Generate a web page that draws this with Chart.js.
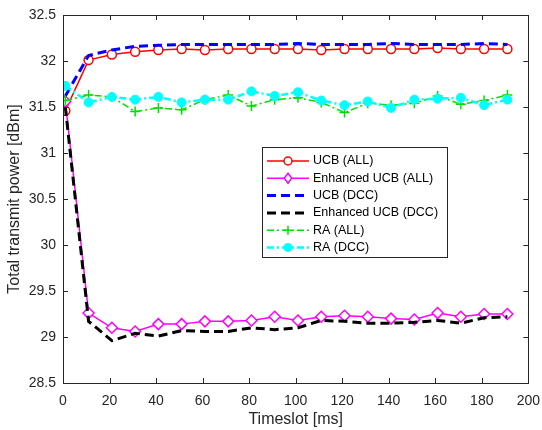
<!DOCTYPE html>
<html>
<head>
<meta charset="utf-8">
<script src="https://cdn.jsdelivr.net/npm/chart.js@4"></script>
<style>
  html, body { margin: 0; padding: 0; background: #fff; }
  #wrap { width: 542px; height: 430px; position: relative; }
</style>
</head>
<body>
<div id="wrap"><canvas id="myChart" width="542" height="430"></canvas></div>
<script>
// timeslots (ms)
var timeslot = [1, 11, 21, 31, 41, 51, 61, 71, 81, 91, 101, 111, 121, 131, 141, 151, 161, 171, 181, 191];

// series values (dBm)
var ucb_all = [31.46, 32.01, 32.07, 32.10, 32.12, 32.13, 32.12, 32.13, 32.13, 32.13, 32.13, 32.12, 32.13, 32.13, 32.13, 32.13, 32.14, 32.13, 32.13, 32.13];
var enh_all = [31.56, 29.26, 29.10, 29.06, 29.14, 29.14, 29.17, 29.17, 29.18, 29.22, 29.18, 29.22, 29.23, 29.22, 29.20, 29.19, 29.26, 29.22, 29.25, 29.25];
var ucb_dcc = [31.62, 32.06, 32.12, 32.16, 32.17, 32.18, 32.18, 32.18, 32.18, 32.18, 32.19, 32.18, 32.18, 32.18, 32.19, 32.18, 32.18, 32.18, 32.19, 32.18];
var enh_dcc = [31.50, 29.17, 28.96, 29.04, 29.01, 29.07, 29.06, 29.06, 29.10, 29.08, 29.10, 29.18, 29.17, 29.15, 29.15, 29.16, 29.18, 29.15, 29.21, 29.22];
var ra_all  = [31.57, 31.63, 31.61, 31.45, 31.49, 31.47, 31.58, 31.63, 31.51, 31.58, 31.60, 31.55, 31.44, 31.54, 31.52, 31.54, 31.62, 31.53, 31.57, 31.63];
var ra_dcc  = [31.73, 31.55, 31.61, 31.58, 31.61, 31.55, 31.58, 31.58, 31.67, 31.62, 31.66, 31.57, 31.52, 31.56, 31.49, 31.58, 31.59, 31.60, 31.52, 31.58];

var labels = ['UCB (ALL)', 'Enhanced UCB (ALL)', 'UCB (DCC)', 'Enhanced UCB (DCC)', 'RA (ALL)', 'RA (DCC)'];

var FONT = '"Liberation Sans", Arial, sans-serif';
var AXIS_COLOR = '#262626';

function pts(ys) {
    // pair timeslots with values
    return ys.map(function (y, i) { return { x: timeslot[i], y: y }; });
}

var datasets = [
    { label: labels[0], data: pts(ucb_all), borderColor: '#ff0000',
      borderWidth: 1.5, pointStyle: 'circle', pointRadius: 4.5, pointBorderWidth: 1.5, borderDash: [] },
    { label: labels[1], data: pts(enh_all), borderColor: '#ff00ff',
      borderWidth: 1.5, pointStyle: 'rectRot', pointRadius: 5.5, pointBorderWidth: 1.5, borderDash: [] },
    { label: labels[2], data: pts(ucb_dcc), borderColor: '#0000ff',
      borderWidth: 3, pointRadius: 0, borderDash: [9, 5] },
    { label: labels[3], data: pts(enh_dcc), borderColor: '#000000',
      borderWidth: 3, pointRadius: 0, borderDash: [9, 5] },
    { label: labels[4], data: pts(ra_all), borderColor: '#00e000',
      borderWidth: 1.5, pointStyle: 'cross', pointRadius: 5, pointBorderWidth: 1.5, borderDash: [7, 3, 2, 3] },
    { label: labels[5], data: pts(ra_dcc), borderColor: '#00ffff',
      borderWidth: 2.5, pointStyle: 'circle', pointRadius: 4.5, pointBorderWidth: 1, borderDash: [7, 3, 2, 3] }
];
// later series drawn on top, like matlab
datasets.forEach(function (d, i) {
    d.order = datasets.length - i;
    d.tension = 0;
    d.fill = false;
    d.pointBorderColor = d.borderColor;
    d.pointBackgroundColor = (i == 0 || i == 1) ? '#ffffff' : d.borderColor;
    d.backgroundColor = d.pointBackgroundColor;
});

// box + inward ticks + legend inside the plot
var matlabBox = {
    id: 'matlabBox',
    afterDraw: function (chart) {
        var ctx = chart.ctx;
        var a = chart.chartArea;
        var xs = chart.scales.x, ys = chart.scales.y;
        ctx.save();
        ctx.strokeStyle = AXIS_COLOR;
        ctx.lineWidth = 1;
        ctx.setLineDash([]);
        ctx.strokeRect(Math.round(a.left) + 0.5, Math.round(a.top) + 0.5,
                       Math.round(a.right - a.left), Math.round(a.bottom - a.top));
        ctx.beginPath();
        xs.ticks.forEach(function (t) {
            var px = Math.round(xs.getPixelForValue(t.value)) + 0.5;
            ctx.moveTo(px, a.bottom); ctx.lineTo(px, a.bottom - 5);
            ctx.moveTo(px, a.top); ctx.lineTo(px, a.top + 5);
        });
        ys.ticks.forEach(function (t) {
            var py = Math.round(ys.getPixelForValue(t.value)) + 0.5;
            ctx.moveTo(a.left, py); ctx.lineTo(a.left + 5, py);
            ctx.moveTo(a.right, py); ctx.lineTo(a.right - 5, py);
        });
        ctx.stroke();

        // legend
        var lx = 262, ly = 147, lw = 185, lh = 110;
        ctx.fillStyle = '#ffffff';
        ctx.fillRect(lx, ly, lw, lh);
        ctx.strokeStyle = '#262626';
        ctx.lineWidth = 1;
        ctx.strokeRect(lx + 0.5, ly + 0.5, lw, lh);
        ctx.font = '12.5px ' + FONT;
        ctx.textBaseline = 'middle';
        datasets.forEach(function (d, i) {
            var cy = ly + 14 + i * 17.3;
            var mx = lx + 26;
            ctx.strokeStyle = d.borderColor;
            ctx.lineWidth = d.borderWidth;
            ctx.setLineDash(d.borderDash);
            ctx.beginPath();
            ctx.moveTo(lx + 5, cy); ctx.lineTo(lx + 47, cy);
            ctx.stroke();
            ctx.setLineDash([]);
            if (d.pointRadius > 0) {
                var r = d.pointRadius - 0.5;
                ctx.fillStyle = d.pointBackgroundColor;
                ctx.strokeStyle = d.pointBorderColor;
                ctx.lineWidth = d.pointBorderWidth;
                ctx.beginPath();
                if (d.pointStyle == 'circle') {
                    ctx.arc(mx, cy, r, 0, Math.PI * 2);
                } else if (d.pointStyle == 'rectRot') {
                    ctx.moveTo(mx, cy - r); ctx.lineTo(mx + r * 0.75, cy);
                    ctx.lineTo(mx, cy + r); ctx.lineTo(mx - r * 0.75, cy);
                    ctx.closePath();
                } else if (d.pointStyle == 'cross') {
                    ctx.moveTo(mx - r, cy); ctx.lineTo(mx + r, cy);
                    ctx.moveTo(mx, cy - r); ctx.lineTo(mx, cy + r);
                }
                if (d.pointStyle != 'cross') ctx.fill();
                ctx.stroke();
            }
            ctx.fillStyle = '#000000';
            ctx.fillText(d.label, lx + 51, cy);
        });
        ctx.restore();
    }
};

var ctx = document.getElementById('myChart').getContext('2d');
var myChart = new Chart(ctx, {
    type: 'line',
    data: { datasets: datasets },
    options: {
        responsive: false,
        animation: false,
        layout: { padding: { top: 15, right: 12, left: 0, bottom: 0 } },
        plugins: { legend: { display: false }, tooltip: { enabled: false } },
        scales: {
            x: {
                type: 'linear', min: 0, max: 200,
                ticks: { stepSize: 20, color: AXIS_COLOR, font: { family: FONT, size: 14 }, padding: 2, maxRotation: 0 },
                grid: { display: false },
                border: { display: false },
                title: { display: true, text: 'Timeslot [ms]', color: AXIS_COLOR, font: { family: FONT, size: 16 }, padding: { top: 0, bottom: 1 } },
                afterFit: function (s) { s.height = 47; }
            },
            y: {
                type: 'linear', min: 28.5, max: 32.5,
                ticks: {
                    stepSize: 0.5, color: AXIS_COLOR, font: { family: FONT, size: 14 }, padding: -1,
                    callback: function (v) { return String(Math.round(v * 10) / 10); }
                },
                grid: { display: false },
                border: { display: false },
                title: { display: true, text: 'Total transmit power [dBm]', color: AXIS_COLOR, font: { family: FONT, size: 16 }, padding: { top: 5, bottom: 0 } },
                afterFit: function (s) { s.width = 63; }
            }
        }
    },
    plugins: [matlabBox]
});
</script>
</body>
</html>
